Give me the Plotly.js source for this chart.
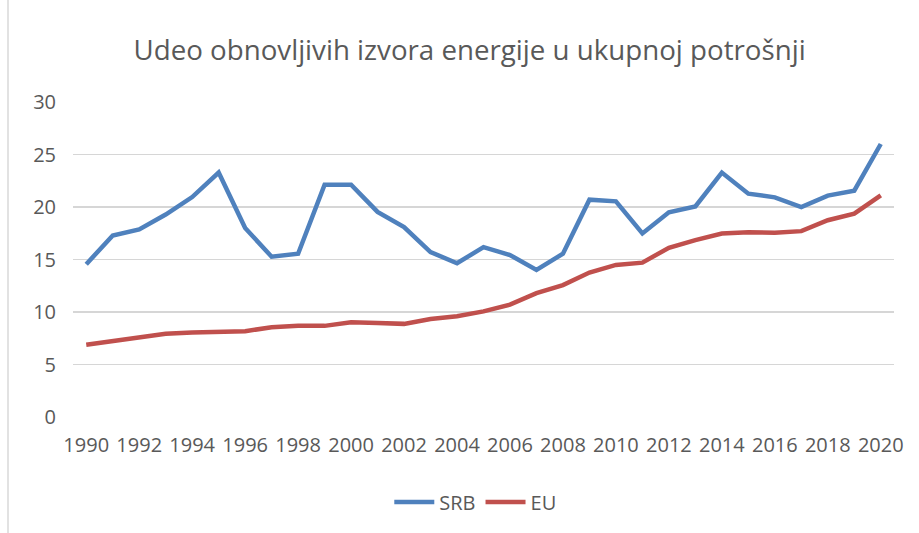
<!DOCTYPE html>
<html>
<head>
<meta charset="utf-8">
<script src="https://cdn.plot.ly/plotly-3.0.1.min.js"></script>
<style>html,body{margin:0;padding:0;background:#fff;}#chart{width:919px;height:533px;}</style>
</head>
<body>
<div id="chart"></div>
<script>
const years = [1990,1991,1992,1993,1994,1995,1996,1997,1998,1999,2000,2001,2002,2003,2004,2005,2006,2007,2008,2009,2010,2011,2012,2013,2014,2015,2016,2017,2018,2019,2020];
const srb = [14.55,17.29,17.86,19.28,20.95,23.28,18.0,15.27,15.55,22.12,22.12,19.53,18.08,15.71,14.64,16.18,15.43,14.01,15.55,20.7,20.54,17.48,19.5,20.06,23.28,21.27,20.92,20.0,21.08,21.55,26.0];
const eu = [6.88,7.23,7.57,7.92,8.05,8.11,8.17,8.55,8.68,8.68,9.03,8.96,8.87,9.34,9.59,10.06,10.7,11.8,12.56,13.76,14.48,14.7,16.12,16.85,17.48,17.6,17.54,17.7,18.74,19.37,21.1];
const seriesNames = ['SRB','EU'];
const titleText = 'Udeo obnovljivih izvora energije u ukupnoj potrošnji';

const font = 'Open Sans, sans-serif';
const traces = [
  {x: years, y: srb, name: seriesNames[0], type: 'scatter', mode: 'lines',
   line: {color: '#4f81bd', width: 4.5}},
  {x: years, y: eu, name: seriesNames[1], type: 'scatter', mode: 'lines',
   line: {color: '#c0504d', width: 4.5}}
];
const layout = {
  width: 919, height: 533,
  margin: {l: 73, r: 25, t: 102, b: 114, pad: 0},
  paper_bgcolor: '#ffffff', plot_bgcolor: '#ffffff',
  font: {family: font, color: '#595959', size: 20},
  title: {text: titleText, font: {family: font, size: 27.7, color: '#595959'},
          x: 0.511, xanchor: 'center', xref: 'container', y: 1 - 50/533, yref: 'container', yanchor: 'middle'},
  xaxis: {range: [1989.5, 2020.5], tickmode: 'linear', tick0: 1990, dtick: 2,
          showgrid: false, zeroline: false, showline: false, ticks: '',
          ticklabelstandoff: 14, tickfont: {size: 20, color: '#595959'}, fixedrange: true},
  yaxis: {range: [0, 30], tickmode: 'linear', tick0: 0, dtick: 5,
          showgrid: true, gridcolor: '#d6d6d6', gridwidth: 1.6, zeroline: false,
          showline: false, ticks: '', ticklabelstandoff: 16,
          tickfont: {size: 20, color: '#595959'}, fixedrange: true},
  showlegend: true,
  legend: {orientation: 'h', x: 0.49, xanchor: 'center', y: -0.27, yanchor: 'middle',
           font: {size: 20, color: '#595959'}, itemwidth: 40, traceorder: 'normal'},
  shapes: [{type: 'line', xref: 'paper', yref: 'paper', x0: -65/821, x1: -65/821, y0: -0.4, y1: 1.35,
            line: {color: '#d9d9d9', width: 1.5}}]
};
Plotly.newPlot('chart', traces, layout, {displayModeBar: false, staticPlot: true});
</script>
</body>
</html>
